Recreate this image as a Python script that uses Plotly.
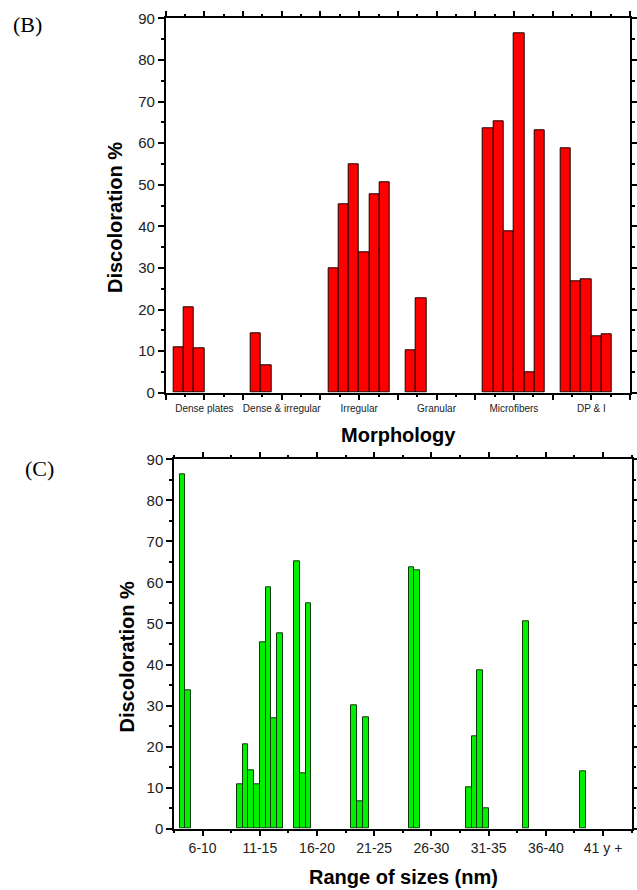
import plotly.graph_objects as go

# ---------------- data ----------------
morph_groups = ["Dense plates", "Dense & irregular", "Irregular", "Granular", "Microfibers", "DP & I"]
morph_values = [
    [10.9, 20.5, 10.7],
    [14.3, 6.6],
    [30.0, 45.3, 55.0, 33.7, 47.7, 50.5],
    [10.2, 22.6],
    [63.6, 65.2, 38.7, 86.4, 4.9, 63.0],
    [58.7, 26.8, 27.2, 13.5, 14.0],
]

size_groups = ["6-10", "11-15", "16-20", "21-25", "26-30", "31-35", "36-40", "41 y +"]
size_values = [
    [86.4, 33.7],
    [10.9, 20.5, 14.3, 10.7, 45.3, 58.7, 26.8, 47.7],
    [65.2, 13.5, 55.0],
    [30.0, 6.6, 27.2],
    [63.6, 63.0],
    [10.2, 22.6, 38.7, 4.9],
    [50.5],
    [14.0],
]

y_ticks = list(range(0, 91, 10))

# ---------------- geometry helpers ----------------
W, H = 637, 890
def px_x(v):
    return v / W
def px_y(v):
    return 1 - v / H

# top chart: groups every 2 units, label at 2g+1, bars start at label-0.8
w_top = 0.8 / 3
tx, ty = [], []
for g, vals in enumerate(morph_values):
    label_pos = 2 * g + 1
    for i, v in enumerate(vals):
        tx.append(label_pos - 0.8 + (i + 0.5) * w_top)
        ty.append(v)

# bottom chart: label at g+1, bars start at label-0.4
w_bot = 0.1
bx, by = [], []
for g, vals in enumerate(size_values):
    label_pos = g + 1
    for i, v in enumerate(vals):
        bx.append(label_pos - 0.4 + (i + 0.5) * w_bot)
        by.append(v)

fig = go.Figure()
fig.add_trace(go.Bar(x=tx, y=ty, width=w_top, xaxis="x", yaxis="y",
                     marker=dict(color="#ff0000", line=dict(color="#1a0000", width=1)),
                     showlegend=False))
fig.add_trace(go.Bar(x=bx, y=by, width=w_bot, xaxis="x2", yaxis="y2",
                     marker=dict(color="#00f000", line=dict(color="#0a3a0a", width=1)),
                     showlegend=False))

FONT = "Arial, Liberation Sans, sans-serif"
axis_common = dict(showline=True, linecolor="black", linewidth=1.5, mirror="allticks",
                   ticks="outside", ticklen=6, tickwidth=1.5, tickcolor="black",
                   showgrid=False, zeroline=False, automargin=False)

top_tickvals = list(range(0, 13))
top_ticktext = [""] * 13
for g, name in enumerate(morph_groups):
    top_ticktext[2 * g + 1] = name

fig.update_layout(
    width=W, height=H,
    margin=dict(l=0, r=0, t=0, b=0, autoexpand=False),
    paper_bgcolor="white", plot_bgcolor="white",
    bargap=0,
    xaxis=dict(domain=[px_x(165.7), px_x(630)], anchor="y", range=[0, 12],
               tickmode="array", tickvals=top_tickvals, ticktext=top_ticktext,
               tickfont=dict(family=FONT, size=10, color="#222"),
               minor=dict(dtick=0.5, tick0=0, ticks="outside", ticklen=3, tickwidth=1.5, tickcolor="black"),
               **axis_common),
    yaxis=dict(domain=[px_y(392.7), px_y(18.3)], anchor="x", range=[0, 90],
               tickmode="array", tickvals=y_ticks,
               tickfont=dict(family=FONT, size=15, color="#222"),
               minor=dict(dtick=5, ticks="outside", ticklen=3, tickwidth=1.5, tickcolor="black"),
               **axis_common),
    xaxis2=dict(domain=[px_x(174), px_x(631.7)], anchor="y2", range=[0.5, 8.5],
                tickmode="array", tickvals=list(range(1, len(size_groups) + 1)), ticktext=size_groups,
                tickfont=dict(family=FONT, size=14, color="#222"),
                minor=dict(dtick=0.5, tick0=0.5, ticks="outside", ticklen=3, tickwidth=1.5, tickcolor="black"),
                **axis_common),
    yaxis2=dict(domain=[px_y(828.7), px_y(459.3)], anchor="x2", range=[0, 90],
                tickmode="array", tickvals=y_ticks,
                tickfont=dict(family=FONT, size=15, color="#222"),
                minor=dict(dtick=5, ticks="outside", ticklen=3, tickwidth=1.5, tickcolor="black"),
                **axis_common),
)

title_font = dict(family=FONT, size=20, color="black")
annots = [
    dict(text="<b>Discoloration %</b>", x=px_x(115), y=px_y(218), textangle=-90, font=title_font),
    dict(text="<b>Discoloration %</b>", x=px_x(126.7), y=px_y(656.7), textangle=-90, font=title_font),
    dict(text="<b>Morphology</b>", x=px_x(398), y=px_y(435), font=title_font),
    dict(text="<b>Range of sizes (nm)</b>", x=px_x(403.3), y=px_y(876.7), font=title_font),
    dict(text="(B)", x=px_x(27), y=px_y(24), font=dict(family="Liberation Serif, Times New Roman, serif", size=22, color="black")),
    dict(text="(C)", x=px_x(39), y=px_y(468), font=dict(family="Liberation Serif, Times New Roman, serif", size=22, color="black")),
]
for a in annots:
    fig.add_annotation(xref="paper", yref="paper", showarrow=False,
                       xanchor="center", yanchor="middle", **a)

post = ("var d=document.getElementById('{plot_id}');"
        "d.style.position='fixed';d.style.top='0px';d.style.left='0px';"
        "document.body.style.margin='0';document.body.style.padding='0';"
        "document.documentElement.style.overflow='hidden';document.body.style.overflow='hidden';")

fig.write_html("out.html", config={"displayModeBar": False}, post_script=post)
